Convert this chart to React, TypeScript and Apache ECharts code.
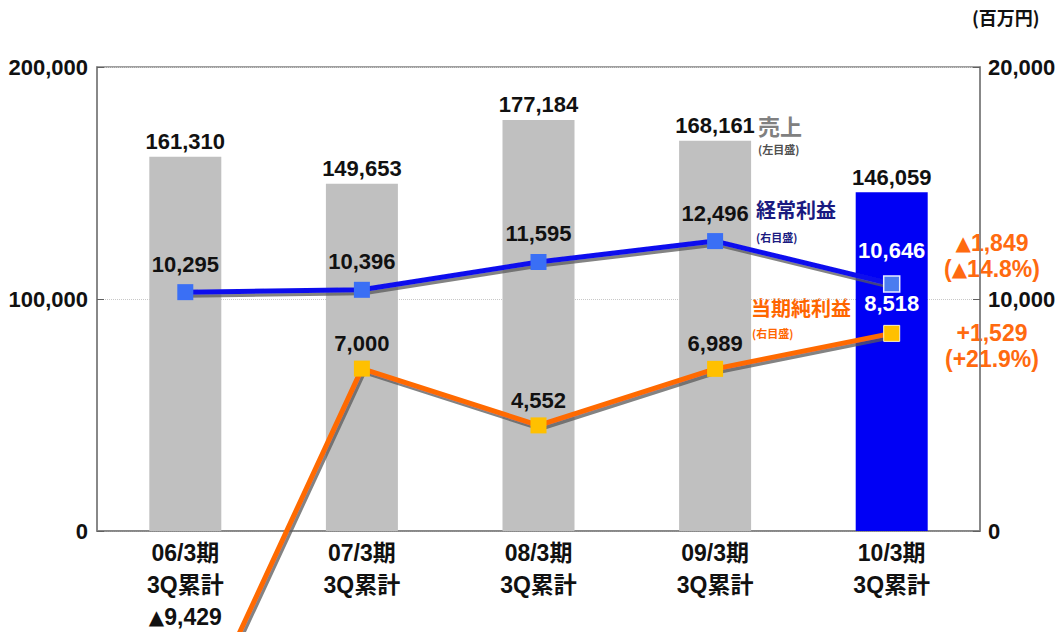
import React, { useEffect, useRef } from "react";
import * as echarts from "echarts";

const categories = ["06/3期\n3Q累計\n▲9,429", "07/3期\n3Q累計", "08/3期\n3Q累計", "09/3期\n3Q累計", "10/3期\n3Q累計"];
const sales = [161310, 149653, 177184, 168161, 146059];
const ordinaryProfit = [10295, 10396, 11595, 12496, 10646];
const netIncome = [-9429, 7000, 4552, 6989, 8518];
const leftTicks = [0, 100000, 200000];
const rightTicks = [0, 10000, 20000];

const NUM_FONT = '"Liberation Sans", Arial, sans-serif';
const CJK_FONT = '"Noto Sans CJK JP", sans-serif';
const LBL_FONT = '"Liberation Sans", "Noto Sans CJK JP", sans-serif';
const TRI_FONT = '"DejaVu Sans", sans-serif';

export default function App() {
  const ref = useRef<HTMLDivElement>(null);
  useEffect(() => {
    document.body.style.margin = "0";
    const chart = echarts.init(ref.current!, null, { renderer: "svg" });
    const fmt = (v: number) => v.toLocaleString("en-US");
    const tri = (s: string) =>
      s
        .split("\n")
        .map((line) => line.split("▲").map((part, k) => (k === 0 ? (part ? `{n|${part}}` : "") : `{t|▲}` + (part ? `{n|${part}}` : ""))).join(""))
        .join("\n");
    const shadow = {
      shadowColor: "rgba(90,90,90,0.75)",
      shadowBlur: 0,
      shadowOffsetX: 2,
      shadowOffsetY: 3,
    };
    const orange = "#ff6a10";
    const annRich = {
      n: { fontFamily: NUM_FONT, fontWeight: "bold", fontSize: 23, lineHeight: 24, fill: orange, color: orange },
      t: { fontFamily: TRI_FONT, fontWeight: "bold", fontSize: 20, lineHeight: 24, fill: orange, color: orange },
    };
    const ann = (text: string, y: number) => ({
      type: "text",
      x: 992,
      y,
      style: { text: tri(text), rich: annRich, align: "center", verticalAlign: "top" },
    });
    chart.setOption({
      animation: false,
      grid: {
        left: 97,
        right: 78,
        top: 67,
        bottom: 101,
        show: true,
        borderColor: "#808080",
        borderWidth: 1.5,
        containLabel: false,
        outerBoundsMode: "none",
      },
      xAxis: {
        type: "category",
        data: categories,
        boundaryGap: true,
        axisLine: { lineStyle: { color: "#808080", width: 1.5 } },
        axisTick: { inside: true, length: 7, lineStyle: { color: "#404040" } },
        axisLabel: {
          interval: 0,
          color: "#111",
          fontFamily: LBL_FONT,
          fontWeight: "bold",
          fontSize: 23,
          lineHeight: 32,
          margin: 6,
          formatter: (v: string) => tri(v),
          rich: {
            n: { fontFamily: LBL_FONT, fontWeight: "bold", fontSize: 23, lineHeight: 32, color: "#111" },
            t: { fontFamily: TRI_FONT, fontWeight: "bold", fontSize: 20, lineHeight: 32, color: "#111" },
          },
        },
      },
      yAxis: [
        {
          type: "value",
          min: leftTicks[0],
          max: leftTicks[leftTicks.length - 1],
          interval: 100000,
          axisLine: { show: true, lineStyle: { color: "#808080", width: 1.5 } },
          axisTick: { show: true, inside: true, length: 7, lineStyle: { color: "#606060" } },
          splitLine: { show: true, lineStyle: { color: "#c8c8c8", type: "dotted", width: 1 } },
          axisLabel: {
            color: "#111",
            fontFamily: NUM_FONT,
            fontWeight: "bold",
            fontSize: 22,
            margin: 9,
            formatter: (v: number) => fmt(v),
          },
        },
        {
          type: "value",
          min: rightTicks[0],
          max: rightTicks[rightTicks.length - 1],
          interval: 10000,
          position: "right",
          axisLine: { show: true, lineStyle: { color: "#808080", width: 1.5 } },
          axisTick: { show: true, inside: true, length: 7, lineStyle: { color: "#606060" } },
          splitLine: { show: false },
          axisLabel: {
            color: "#111",
            fontFamily: NUM_FONT,
            fontWeight: "bold",
            fontSize: 22,
            margin: 8,
            formatter: (v: number) => fmt(v),
          },
        },
      ],
      series: [
        {
          type: "bar",
          yAxisIndex: 0,
          barWidth: 72,
          data: sales.map((v, i) => ({
            value: v,
            itemStyle: { color: i === sales.length - 1 ? "#0000f5" : "#c0c0c0" },
          })),
          label: {
            show: true,
            position: "top",
            distance: 4,
            color: "#111",
            fontFamily: NUM_FONT,
            fontWeight: "bold",
            fontSize: 22,
            formatter: (p: any) => fmt(p.value),
          },
          z: 1,
        },
        {
          type: "line",
          yAxisIndex: 1,
          clip: false,
          data: ordinaryProfit.map((v, i) => {
            const last = i === ordinaryProfit.length - 1;
            return {
              value: v,
              itemStyle: last
                ? { color: "#4a7cf0", borderColor: "#e8ecff", borderWidth: 1.5 }
                : { color: "#3a6ff5" },
              label: last ? { color: "#ffffff", distance: 14 } : {},
            };
          }),
          symbol: "rect",
          symbolSize: 16,
          lineStyle: { color: "#1010ee", width: 5, ...shadow },
          itemStyle: { color: "#3a6ff5" },
          label: {
            show: true,
            position: "top",
            distance: 9,
            color: "#111",
            fontFamily: NUM_FONT,
            fontWeight: "bold",
            fontSize: 22,
            formatter: (p: any) => fmt(p.value),
          },
          z: 3,
        },
        {
          type: "line",
          yAxisIndex: 1,
          clip: false,
          data: netIncome.map((v, i) => {
            const last = i === netIncome.length - 1;
            return {
              value: v,
              itemStyle: last
                ? { color: "#ffc000", borderColor: "#fff2c0", borderWidth: 1 }
                : { color: "#ffc000" },
              label: i === 0 ? { show: false } : last ? { color: "#ffffff", distance: 10 } : {},
            };
          }),
          symbol: "rect",
          symbolSize: 16,
          lineStyle: { color: "#ff6a00", width: 5, ...shadow },
          itemStyle: { color: "#ffc000" },
          label: {
            show: true,
            position: "top",
            distance: 6,
            color: "#111",
            fontFamily: NUM_FONT,
            fontWeight: "bold",
            fontSize: 22,
            formatter: (p: any) => fmt(p.value),
          },
          z: 3,
        },
      ],
      graphic: [
        { type: "text", left: 972, top: 8, style: { text: "(百万円)", fill: "#111", font: `bold 18px ${CJK_FONT}` } },
        { type: "text", left: 758, top: 114, style: { text: "売上", fill: "#808080", font: `bold 22px ${CJK_FONT}` } },
        { type: "text", left: 758, top: 143, style: { text: "(左目盛)", fill: "#505050", font: `bold 11px ${CJK_FONT}` } },
        { type: "text", left: 756, top: 199, style: { text: "経常利益", fill: "#1a1a80", font: `bold 20px ${CJK_FONT}` } },
        { type: "text", left: 756, top: 231, style: { text: "(右目盛)", fill: "#1a1a80", font: `bold 11px ${CJK_FONT}` } },
        { type: "text", left: 751, top: 297, style: { text: "当期純利益", fill: "#ff6600", font: `bold 20px ${CJK_FONT}` } },
        { type: "text", left: 752, top: 327, style: { text: "(右目盛)", fill: "#ff6600", font: `bold 11px ${CJK_FONT}` } },
        ann("▲1,849", 231),
        ann("(▲14.8%)", 257),
        ann("+1,529", 321),
        ann("(+21.9%)", 347),
      ],
    });
    return () => chart.dispose();
  }, []);
  return <div ref={ref} style={{ position: "absolute", left: 0, top: 0, width: 1058, height: 632, background: "#fff" }} />;
}
